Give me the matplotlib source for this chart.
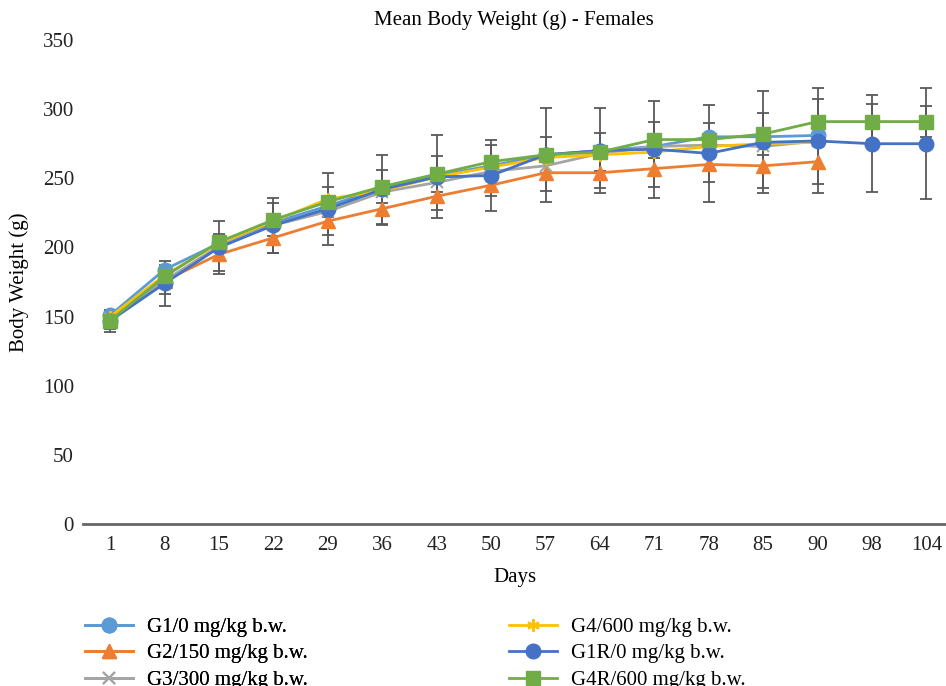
import numpy as np
import matplotlib
matplotlib.use("Agg")
import matplotlib.pyplot as plt

plt.rcParams['font.family'] = ['Liberation Serif', 'DejaVu Serif']

# x categories (days)
days = ['1', '8', '15', '22', '29', '36', '43', '50', '57', '64', '71', '78', '85', '90', '98', '104']

# mean body weights (g)
g1 = [151, 184, 203, 218, 230, 243, 252, 259, 267, 270, 273, 280, 280, 281]
g2 = [149, 176, 195, 207, 219, 228, 237, 245, 254, 254, 257, 260, 259, 262]
g3 = [148, 176, 201, 216, 226, 240, 247, 255, 259, 268, 273, 274, 273, 277]
g4 = [150, 180, 203, 219, 235, 241, 251, 258, 265, 267, 269, 273, 275, 276]
g1r = [147, 174, 200, 216, 228, 242, 251, 252, 267, 270, 271, 268, 276, 277, 275, 275]
g4r = [147, 179, 204, 220, 233, 244, 253, 262, 267, 269, 278, 278, 282, 291, 291, 291]

# standard deviations (error bars)
g2_sd = [6, 10, 12, 11, 10, 12, 10, 8, 13, 11, 13, 13, 16, 16]
g1r_sd = [8, 16, 19, 20, 26, 25, 30, 26, 34, 31, 35, 35, 37, 38, 35, 40]
g4r_sd = [6, 8, 6, 12, 11, 12, 13, 12, 13, 14, 13, 12, 15, 16, 13, 11]

series = [
    ('G1/0 mg/kg b.w.', g1, '#5B9BD5', 'o', None),
    ('G2/150 mg/kg b.w.', g2, '#ED7D31', '^', g2_sd),
    ('G3/300 mg/kg b.w.', g3, '#A5A5A5', 'x', None),
    ('G4/600 mg/kg b.w.', g4, '#FFC000', (6, 2, 0), None),
    ('G1R/0 mg/kg b.w.', g1r, '#4472C4', 'o', g1r_sd),
    ('G4R/600 mg/kg b.w.', g4r, '#70AD47', 's', g4r_sd),
]

fig = plt.figure(figsize=(9.46, 6.86), dpi=100)
ax = fig.add_axes([83 / 946, 1 - 524 / 686, 1 - 83 / 946, 484 / 686])

x = np.arange(len(days))
handles = []
for i, (name, vals, col, mk, sd) in enumerate(series):
    xs = x[:len(vals)]
    if sd is not None:
        ax.errorbar(xs, vals, yerr=sd, fmt='none', ecolor='#595959',
                    elinewidth=1.3, capsize=4, capthick=1.3, zorder=1)
    ms = 10.5 if mk in ('o', 's', '^') else 9
    mew = 1.5 if mk in ('x', (6, 2, 0)) else 1
    h, = ax.plot(xs, vals, color=col, lw=2, marker=mk, ms=ms,
                 mec=col, mfc=col, mew=mew, label=name, zorder=2 + i)
    handles.append(h)

ax.set_xlim(-0.5, 15.36)
ax.set_ylim(0, 350)
ax.set_xticks(x)
ax.set_xticklabels(days)
ax.set_yticks(np.arange(0, 351, 50))
ax.tick_params(axis='both', length=0, labelsize=15, colors='#222222')
ax.tick_params(axis='x', pad=9)
ax.tick_params(axis='y', pad=6.5)
for s in ['top', 'right', 'left']:
    ax.spines[s].set_visible(False)
ax.spines['bottom'].set_color('#666666')
ax.spines['bottom'].set_linewidth(2)

ax.set_xlabel('Days', fontsize=15, labelpad=9)
ax.set_ylabel('Body Weight (g)', fontsize=15, labelpad=10)
fig.text(514 / 946, 1 - 20 / 686, 'Mean Body Weight (g) - Females',
         ha='center', va='center', fontsize=15)

leg_kw = dict(loc='upper left', frameon=False, fontsize=15, handlelength=2.3,
              handletextpad=0.65, labelspacing=0.33, borderaxespad=0)
leg1 = fig.legend(handles=handles[:3], bbox_to_anchor=(77 / 946, 1 - 609 / 686), **leg_kw)
fig.add_artist(leg1)
fig.legend(handles=handles[3:], bbox_to_anchor=(501 / 946, 1 - 609 / 686), **leg_kw)

fig.savefig('out.png', dpi=100)
